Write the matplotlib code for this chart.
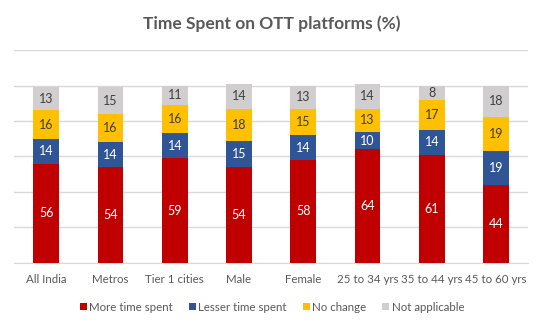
import matplotlib
matplotlib.use("Agg")
import matplotlib.pyplot as plt
import numpy as np

plt.rcParams['font.family'] = ['Lato', 'DejaVu Sans']

categories = ['All India', 'Metros', 'Tier 1 cities', 'Male', 'Female',
              '25 to 34 yrs', '35 to 44 yrs', '45 to 60 yrs']
more_time = [56, 54, 59, 54, 58, 64, 61, 44]
lesser_time = [14, 14, 14, 15, 14, 10, 14, 19]
no_change = [16, 16, 16, 18, 15, 13, 17, 19]
not_applicable = [13, 15, 11, 14, 13, 14, 8, 18]

series = [
    ('More time spent', more_time, '#C00000', 'white'),
    ('Lesser time spent', lesser_time, '#2F5597', 'white'),
    ('No change', no_change, '#FFC000', '#404040'),
    ('Not applicable', not_applicable, '#D0CECE', '#404040'),
]

fig = plt.figure(figsize=(5.44, 3.25), dpi=100)
ax = fig.add_axes([0.026, 0.191, 0.945, 0.655])

x = np.arange(len(categories))
bottom = np.zeros(len(categories))
for name, vals, color, txt in series:
    vals = np.array(vals, dtype=float)
    ax.bar(x, vals, 0.4, bottom=bottom, color=color, label=name, zorder=3)
    for xi, b, v in zip(x, bottom, vals):
        ax.text(xi, b + v / 2, f'{int(v)}', ha='center', va='center',
                color=txt, fontsize=9, zorder=4)
    bottom += vals

ax.set_xlim(-0.5, len(categories) - 0.5)
ax.set_ylim(0, 120)
ax.set_yticks(np.arange(0, 121, 20))
ax.yaxis.grid(True, color='#D9D9D9', linewidth=1, zorder=0)
ax.tick_params(axis='y', left=False, labelleft=False)
ax.tick_params(axis='x', length=0, pad=8, labelsize=8.3, labelcolor='#595959')
ax.set_xticks(x)
ax.set_xticklabels(categories)
for s in ['top', 'right', 'left']:
    ax.spines[s].set_visible(False)
ax.spines['bottom'].set_color('#D9D9D9')

fig.text(0.5, 0.926, 'Time Spent on OTT platforms (%)', ha='center', va='center',
         fontsize=12.5, fontweight='bold', color='#595959')

fig.legend(loc='center', bbox_to_anchor=(0.5, 0.055), ncol=4, frameon=False,
           fontsize=8.3, handlelength=0.6, handleheight=0.6, handletextpad=0.2,
           columnspacing=1.4, labelcolor='#595959')

fig.savefig('out.png', dpi=100)
